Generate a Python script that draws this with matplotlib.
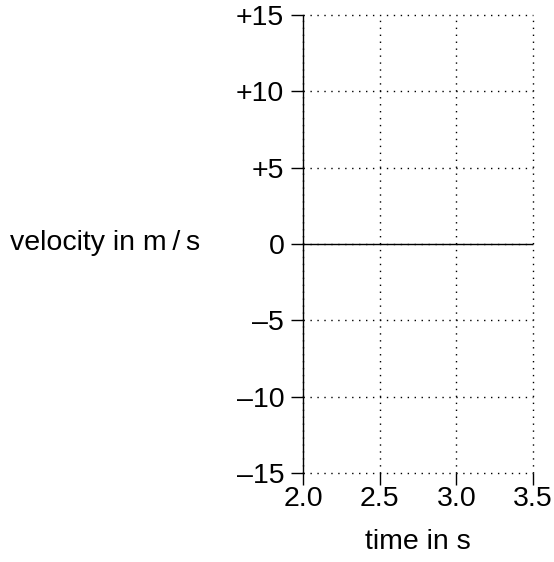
import matplotlib
matplotlib.use("Agg")
import matplotlib.pyplot as plt

x_ticks = [2.0, 2.5, 3.0, 3.5]
x_labels = ["2.0", "2.5", "3.0", "3.5"]
y_ticks = [-15, -10, -5, 0, 5, 10, 15]
y_labels = ["\u201315", "\u201310", "\u20135", "0", "+5", "+10", "+15"]

plt.rcParams['font.family'] = ['Liberation Sans', 'DejaVu Sans']

fig = plt.figure(figsize=(5.54, 5.62), dpi=100)
W, H = 554, 562
ax = fig.add_axes([303 / W, 1 - 473 / H, (533 - 303) / W, (473 - 15) / H])
ax.set_xlim(2.0, 3.5)
ax.set_ylim(-15, 15)

for s in ['top', 'right', 'bottom']:
    ax.spines[s].set_visible(False)
ax.spines['left'].set_linewidth(1.0)
ax.spines['left'].set_color('black')

fs = 20.5
ax.set_xticks(x_ticks)
ax.set_xticklabels(x_labels)
ax.set_yticks(y_ticks)
ax.set_yticklabels(y_labels)
ax.tick_params(axis='both', direction='out', length=8.5, width=1.0, colors='black', labelsize=fs)
ax.tick_params(axis='y', pad=5)
ax.tick_params(axis='x', pad=1)

ax.grid(True, color='black', linestyle=(0, (1, 4)), linewidth=1.0)
for gl in ax.get_xgridlines() + ax.get_ygridlines():
    gl.set_clip_on(False)

ax.axhline(0, color='black', linewidth=1.0)

ax.set_xlabel("time in s", fontsize=fs, labelpad=12)
fig.text(10 / W, 1 - 243 / H, "velocity in m\u2009/\u2009s", fontsize=fs, ha='left', va='center')

fig.savefig("out.png", dpi=100)
